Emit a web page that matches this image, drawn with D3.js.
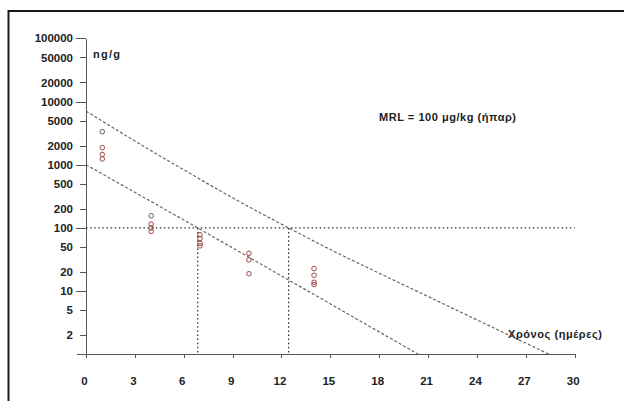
<!DOCTYPE html>
<html>
<head>
<title>Withdrawal time</title>
<style>
    html, body { margin: 0; background: #fff; overflow: hidden; }
    svg { display: block; }
    svg text { font-family: "Liberation Sans", Arial, sans-serif; fill: #222; }
    .axis text { font-size: 11.5px; font-weight: bold; }
    .axis path, .axis line { fill: none; stroke: #555; shape-rendering: crispEdges; }
</style>
</head>
<body>
<script src="https://cdn.jsdelivr.net/npm/d3@7"></script>
<script>

var width = 624, height = 401;

// tick labels
var xTicks = [0, 3, 6, 9, 12, 15, 18, 21, 24, 27, 30];
var yTicks = [2, 5, 10, 20, 50, 100, 200, 500, 1000, 2000, 5000, 10000, 20000, 50000, 100000];

// residue measurements (day, ng/g)
var obsDays   = [1, 1, 1, 1, 4, 4, 4, 4, 7, 7, 7, 7, 10, 10, 10, 14, 14, 14, 14];
var obsValues = [3330, 1860, 1450, 1235, 156, 115, 100, 88, 78, 68, 57, 52, 39.6, 31.2, 18.8, 22.7, 17.8, 13.8, 12.7];

// regression line
var regDays   = [0, 6.86, 20.4];
var regValues = [1000, 100, 1];

// upper tolerance limit
var tolDays   = [0, 3, 6, 9, 12.44, 15, 18, 21, 24, 28.44];
var tolValues = [7060, 2370, 830, 299, 100, 45.5, 19.2, 8.2, 3.5, 1];

var mrl = 100;
var mrlDays = [6.86, 12.44];

var x = d3.scaleLinear().domain([0, 30]).range([86, 574.7]);
var y = d3.scaleLog().domain([1, 100000]).range([354.3, 38.3]);

var svg = d3.select("body").append("svg")
    .attr("width", width)
    .attr("height", height);

// outer frame (right and bottom edges fall outside the picture)
svg.append("rect")
    .attr("x", 8.5).attr("y", 11)
    .attr("width", 700).attr("height", 500)
    .style("fill", "none")
    .style("stroke", "#1a1a1a")
    .style("stroke-width", 2);

// y axis
var gY = svg.append("g")
    .attr("class", "axis")
    .attr("transform", "translate(" + x(0) + ",0)")
    .call(d3.axisLeft(y).tickValues(yTicks).tickFormat(d3.format("d"))
        .tickSizeInner(6).tickSizeOuter(0).tickPadding(7));

gY.selectAll(".tick line")
    .attr("x2", function (d) { return Math.abs(Math.log10(d) % 1) < 1e-9 ? -10 : -6; });

// x axis
var gX = svg.append("g")
    .attr("class", "axis")
    .attr("transform", "translate(0," + y(1) + ")")
    .call(d3.axisBottom(x).tickValues(xTicks).tickFormat(d3.format("d"))
        .tickSizeInner(4).tickSizeOuter(0).tickPadding(19));

gX.selectAll(".tick text").attr("dx", -2);

svg.append("line")
    .attr("x1", x(0) - 9).attr("x2", x(0))
    .attr("y1", y(1)).attr("y2", y(1))
    .style("stroke", "#555")
    .style("shape-rendering", "crispEdges");

// dotted MRL guides
var dotted = { stroke: "#333", width: 1.3, dash: "1.5,2.6" };

svg.append("line")
    .attr("x1", x(0)).attr("x2", x(30))
    .attr("y1", y(mrl)).attr("y2", y(mrl))
    .style("stroke", dotted.stroke)
    .style("stroke-width", dotted.width)
    .style("stroke-dasharray", dotted.dash);

svg.selectAll(".vguide")
    .data(mrlDays)
    .enter().append("line")
    .attr("class", "vguide")
    .attr("x1", function (d) { return x(d); })
    .attr("x2", function (d) { return x(d); })
    .attr("y1", y(mrl)).attr("y2", y(1))
    .style("stroke", dotted.stroke)
    .style("stroke-width", dotted.width)
    .style("stroke-dasharray", dotted.dash);

// regression and tolerance lines
var line = d3.line()
    .x(function (d) { return x(d[0]); })
    .y(function (d) { return y(d[1]); });

svg.append("path")
    .datum(d3.zip(regDays, regValues))
    .attr("d", line)
    .style("fill", "none")
    .style("stroke", "#666")
    .style("stroke-width", 1.2)
    .style("stroke-dasharray", "3,2");

svg.append("path")
    .datum(d3.zip(tolDays, tolValues))
    .attr("d", line.curve(d3.curveMonotoneX))
    .style("fill", "none")
    .style("stroke", "#666")
    .style("stroke-width", 1.2)
    .style("stroke-dasharray", "3,2");

// observations
svg.selectAll(".obs")
    .data(d3.zip(obsDays, obsValues))
    .enter().append("circle")
    .attr("class", "obs")
    .attr("cx", function (d) { return x(d[0]); })
    .attr("cy", function (d) { return y(d[1]); })
    .attr("r", 2.3)
    .style("fill", "none")
    .style("stroke", function (d, i) { return i === 0 || i === 4 ? "#666" : "#9a4848"; })
    .style("stroke-width", 1);

// labels
svg.append("text")
    .attr("x", 93).attr("y", 58)
    .attr("textLength", 27)
    .style("font-size", "11px")
    .style("font-weight", "bold")
    .text("ng/g");

svg.append("text")
    .attr("x", 379).attr("y", 121)
    .attr("textLength", 137)
    .style("font-size", "11px")
    .style("font-weight", "bold")
    .text("MRL = 100 μg/kg (ήπαρ)");

svg.append("text")
    .attr("x", 508).attr("y", 338)
    .attr("textLength", 94)
    .style("font-size", "11px")
    .style("font-weight", "bold")
    .text("Χρόνος (ημέρες)");

</script>
</body>
</html>
